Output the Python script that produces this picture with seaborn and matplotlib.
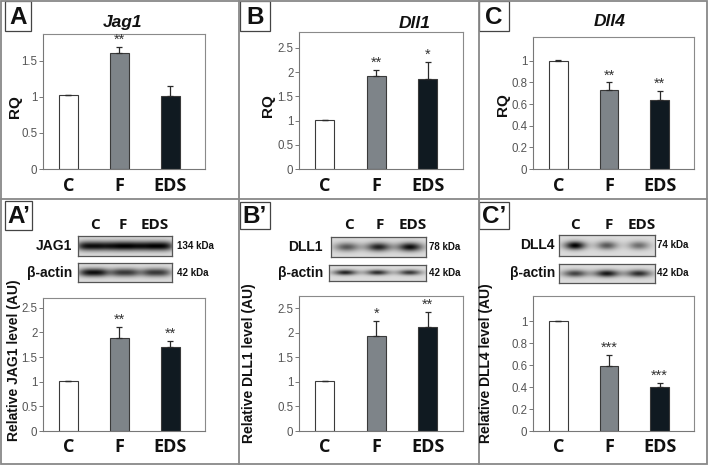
import numpy as np
import matplotlib
matplotlib.use("Agg")
import matplotlib.pyplot as plt
import seaborn as sns
from matplotlib.patches import Rectangle
from matplotlib.lines import Line2D

# ---------------- data ----------------
categories = ["C", "F", "EDS"]

jag1_rq = [1.02, 1.61, 1.01]
jag1_rq_err = [0.01, 0.08, 0.14]
jag1_rq_sig = ["", "**", ""]

dll1_rq = [1.01, 1.93, 1.86]
dll1_rq_err = [0.01, 0.12, 0.36]
dll1_rq_sig = ["", "**", "*"]

dll4_rq = [1.00, 0.73, 0.64]
dll4_rq_err = [0.005, 0.07, 0.08]
dll4_rq_sig = ["", "**", "**"]

jag1_prot = [1.01, 1.89, 1.71]
jag1_prot_err = [0.01, 0.22, 0.12]
jag1_prot_sig = ["", "**", "**"]

dll1_prot = [1.01, 1.93, 2.11]
dll1_prot_err = [0.01, 0.31, 0.31]
dll1_prot_sig = ["", "*", "**"]

dll4_prot = [1.00, 0.59, 0.40]
dll4_prot_err = [0.005, 0.10, 0.035]
dll4_prot_sig = ["", "***", "***"]

ticks_a = [0, 0.5, 1, 1.5]
ticks_b = [0, 0.5, 1, 1.5, 2, 2.5]
ticks_c = [0, 0.2, 0.4, 0.6, 0.8, 1]

# western blot band strengths per lane (C, F, EDS)
jag1_band = [0.95, 1.0, 1.0]
actin_a_band = [0.95, 0.75, 0.75]
dll1_band = [0.6, 0.85, 0.95]
actin_b_band = [0.85, 0.8, 0.75]
dll4_band = [1.0, 0.6, 0.5]
actin_c_band = [0.7, 0.9, 0.8]

bar_colors = ["#ffffff", "#7c848b", "#0d1b24"]

# ---------------- layout ----------------
W, H = 709, 466
fig = plt.figure(figsize=(W / 100, H / 100), dpi=100)
fig.patch.set_facecolor("white")

ARIAL = "Liberation Sans"
CAL = "Open Sans"


def frac(l, t, r, b):
    return [l / W, 1 - b / H, (r - l) / W, (b - t) / H]


def fx(x):
    return x / W


def fy(y):
    return 1 - y / H


def bar_panel(rect, vals, errs, sigs, ticks, ytop, pad):
    ax = fig.add_axes(frac(*rect))
    sns.barplot(x=categories, y=vals, hue=categories, palette=bar_colors,
                legend=False, width=0.37, edgecolor="#3a3a3a", linewidth=0.8,
                errorbar=None, ax=ax, zorder=2)
    ax.errorbar(x=range(len(vals)), y=vals, yerr=[[0] * len(vals), errs],
                fmt="none", ecolor="#2a2a2a", elinewidth=0.9, capsize=2.2,
                capthick=0.9, zorder=3)
    for i, (v, e, s) in enumerate(zip(vals, errs, sigs)):
        if s:
            ax.text(i, v + e, s, ha="center", va="bottom", fontsize=10.5,
                    color="#333333", family=ARIAL)
    ax.set_xlim(-0.5, 2.68)
    ax.set_ylim(0, ytop)
    ax.set_yticks(ticks)
    ax.set_yticklabels([f"{t:g}" for t in ticks], family=ARIAL, fontsize=8.3,
                       color="#555555")
    ax.tick_params(axis="y", length=3, width=0.7, color="#777777", pad=1)
    ax.tick_params(axis="x", length=0, pad=pad)
    for lab in ax.get_xticklabels():
        lab.set_family(CAL)
        lab.set_fontweight("bold")
        lab.set_fontsize(13)
        lab.set_color("#111111")
    for sp in ax.spines.values():
        sp.set_color("#8a8a8a")
        sp.set_linewidth(0.8)
    ax.spines["left"].set_color("#777777")
    ax.spines["bottom"].set_color("#777777")
    ax.set_xlabel("")
    ax.set_ylabel("")
    ax.set_facecolor("white")
    return ax


def blot(rect, strengths, half_w, sigma, power=2):
    ax = fig.add_axes(frac(*rect))
    nx, ny = 200, 40
    xs = np.linspace(0, 1, nx)
    ys = np.linspace(0, 1, ny)
    X, Y = np.meshgrid(xs, ys)
    img = np.full_like(X, 0.86)
    for i, s in enumerate(strengths):
        cx = (i + 0.5) / 3
        gx = np.exp(-np.abs((X - cx) / half_w) ** power)
        gy = np.exp(-((Y - 0.5) / sigma) ** 2)
        img -= s * 0.86 * gx * gy
    img = np.clip(img, 0, 1)
    ax.imshow(img, cmap="gray", vmin=0, vmax=1, aspect="auto",
              extent=[0, 1, 0, 1], interpolation="bilinear")
    ax.set_xticks([])
    ax.set_yticks([])
    for sp in ax.spines.values():
        sp.set_color("#555555")
        sp.set_linewidth(0.9)
    return ax


# ---------------- top row (qPCR) ----------------
bar_panel((43, 34, 205, 169), jag1_rq, jag1_rq_err, jag1_rq_sig, ticks_a, 1.87, 6)
bar_panel((299, 32, 463, 169), dll1_rq, dll1_rq_err, dll1_rq_sig, ticks_b, 2.83, 6)
bar_panel((533, 37, 694, 169), dll4_rq, dll4_rq_err, dll4_rq_sig, ticks_c, 1.22, 6)

# ---------------- bottom row (protein) ----------------
bar_panel((43, 298, 205, 431), jag1_prot, jag1_prot_err, jag1_prot_sig, ticks_b, 2.70, 5)
bar_panel((299, 296, 463, 431), dll1_prot, dll1_prot_err, dll1_prot_sig, ticks_b, 2.75, 5)
bar_panel((533, 296, 694, 431), dll4_prot, dll4_prot_err, dll4_prot_sig, ticks_c, 1.23, 5)

# blots
blot((78, 236, 172, 256), jag1_band, 0.18, 0.24, power=4)
blot((78, 263, 172, 282), actin_a_band, 0.16, 0.22, power=3)
blot((331, 237, 426, 257), dll1_band, 0.13, 0.22, power=2)
blot((329, 265, 426, 281), actin_b_band, 0.12, 0.16, power=2)
blot((559, 235, 655, 256), dll4_band, 0.11, 0.2, power=2)
blot((559, 264, 655, 283), actin_c_band, 0.13, 0.19, power=2)

# ---------------- texts ----------------
def ftext(x, y, s, **kw):
    fig.text(fx(x), fy(y), s, **kw)


title_kw = dict(family=ARIAL, fontsize=12.5, fontweight="bold", style="italic",
                ha="center", va="center", color="#111111")
ftext(123, 23, "Jag1", **title_kw)
ftext(415, 23, "Dll1", **title_kw)
ftext(610, 22, "Dll4", **title_kw)

ylab_kw = dict(family=ARIAL, fontsize=11, fontweight="bold", rotation=90,
               ha="center", va="center", color="#111111")
ftext(15, 107, "RQ", **ylab_kw)
ftext(268.5, 106, "RQ", **ylab_kw)
ftext(503, 105, "RQ", **ylab_kw)

ylab2_kw = dict(family=ARIAL, fontsize=10, fontweight="bold", rotation=90,
                ha="center", va="center", color="#111111")
ftext(14, 360, "Relative JAG1 level (AU)", **ylab2_kw)
ftext(249, 363, "Relative DLL1 level (AU)", **ylab2_kw)
ftext(486, 363, "Relative DLL4 level (AU)", **ylab2_kw)

# lane headers above blots
lane_kw = dict(family=CAL, fontsize=11, fontweight="bold", ha="center",
               va="center", color="#111111")
for x, s in zip([95, 123, 155], categories):
    ftext(x, 225, s, **lane_kw)
for x, s in zip([349, 380, 413], categories):
    ftext(x, 225, s, **lane_kw)
for x, s in zip([575, 609, 642], categories):
    ftext(x, 225, s, **lane_kw)

prot_kw = dict(family=ARIAL, fontsize=10, fontweight="bold", ha="right",
               va="center", color="#111111")
ftext(72, 246, "JAG1", **prot_kw)
ftext(72, 273, "β-actin", **prot_kw)
ftext(323, 247, "DLL1", **prot_kw)
ftext(323, 273, "β-actin", **prot_kw)
ftext(555, 245, "DLL4", **prot_kw)
ftext(555, 273, "β-actin", **prot_kw)

kda_kw = dict(family=ARIAL, fontsize=7, fontweight="bold", ha="left",
              va="center", color="#111111")
ftext(177, 246, "134 kDa", **kda_kw)
ftext(177, 273, "42 kDa", **kda_kw)
ftext(429, 247, "78 kDa", **kda_kw)
ftext(429, 273, "42 kDa", **kda_kw)
ftext(657, 245, "74 kDa", **kda_kw)
ftext(657, 273, "42 kDa", **kda_kw)

# panel label boxes
label_boxes = [
    ("A", (5, 1, 31, 31)),
    ("B", (240, 1, 270, 31)),
    ("C", (479, 1, 509, 31)),
    ("A\u2019", (5, 201, 32, 230)),
    ("B\u2019", (240, 202, 270, 229)),
    ("C\u2019", (479, 202, 509, 229)),
]
for s, (l, t, r, b) in label_boxes:
    fig.add_artist(Rectangle((fx(l), fy(b)), (r - l) / W, (b - t) / H,
                             transform=fig.transFigure, fill=False,
                             edgecolor="#444444", linewidth=0.9))
    fig.text(fx((l + r) / 2), fy((t + b) / 2 + 1), s, family=ARIAL,
             fontsize=17.5, fontweight="bold", ha="center", va="center",
             color="#111111")

# panel frame lines
line_kw = dict(transform=fig.transFigure, color="#888888", linewidth=1.3)
fig.add_artist(Rectangle((fx(1), fy(464)), 706 / W, 463 / H,
                         transform=fig.transFigure, fill=False,
                         edgecolor="#888888", linewidth=1.3))
fig.add_artist(Line2D([fx(1), fx(707)], [fy(199.5), fy(199.5)], **line_kw))
fig.add_artist(Line2D([fx(239), fx(239)], [fy(1), fy(464)], **line_kw))
fig.add_artist(Line2D([fx(479), fx(479)], [fy(1), fy(464)], **line_kw))

fig.savefig("out.png", dpi=100)
